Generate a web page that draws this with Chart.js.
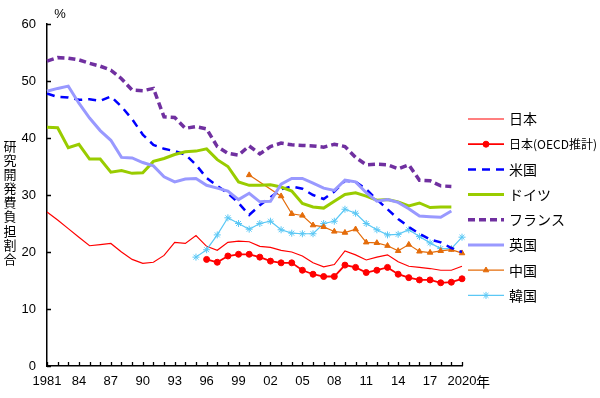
<!DOCTYPE html>
<html>
<head>
<meta charset="utf-8">
<script src="https://cdn.jsdelivr.net/npm/chart.js"></script>
<style>
  body { margin: 0; background: #fff; }
  #wrap { width: 600px; height: 398px; }
</style>
</head>
<body>
<div id="wrap"><canvas id="chart" width="600" height="398"></canvas></div>
<script>
// 年 (1981-2020)
var years = [];
for (var y = 1981; y <= 2020; y++) years.push(y);

var yTicks = [0, 10, 20, 30, 40, 50, 60];
var yTitle = '研究開発費負担割合';

var seriesNames = ['日本', '日本(OECD推計)', '米国', 'ドイツ', 'フランス', '英国', '中国', '韓国'];

var japan = [27.0, 25.6, 24.1, 22.6, 21.1, 21.3, 21.5, 20.0, 18.7, 18.0,
             18.2, 19.4, 21.7, 21.5, 22.9, 21.0, 20.3, 21.7, 21.9, 21.8,
             21.0, 20.8, 20.3, 20.0, 19.3, 18.1, 17.4, 17.8, 20.2, 19.5,
             18.6, 19.1, 19.5, 18.3, 17.5, 17.3, 17.1, 16.8, 16.8, 17.5];
var japanOecd = [null, null, null, null, null, null, null, null, null, null,
                 null, null, null, null, null, 18.7, 18.2, 19.3, 19.6, 19.6,
                 19.1, 18.4, 18.1, 18.1, 16.8, 16.1, 15.7, 15.7, 17.7, 17.3,
                 16.4, 16.8, 17.3, 16.1, 15.5, 15.1, 15.1, 14.6, 14.7, 15.3];
var usa = [47.8, 47.2, 47.1, 46.7, 46.8, 46.5, 47.3, 45.5, 43.3, 40.6,
           38.8, 38.1, 37.7, 37.1, 35.3, 33.0, 31.6, 30.3, 28.6, 26.5,
           28.2, 29.6, 31.0, 31.5, 31.1, 30.0, 29.3, 30.6, 32.5, 32.3,
           31.0, 29.2, 27.5, 25.8, 24.4, 23.2, 22.2, 21.7, 20.7, 20.0];
var germany = [41.9, 41.8, 38.3, 38.9, 36.3, 36.3, 34.0, 34.3, 33.8, 33.9,
               35.9, 36.4, 37.1, 37.6, 37.7, 38.1, 36.2, 35.0, 32.3, 31.7,
               31.7, 31.8, 31.4, 30.7, 28.5, 27.9, 27.7, 28.9, 30.1, 30.4,
               29.8, 29.1, 29.2, 28.8, 28.1, 28.6, 27.8, 27.9, 27.9, null];
var france = [53.5, 54.1, 54.0, 53.7, 53.1, 52.6, 51.9, 50.4, 48.4, 48.3,
              48.7, 43.7, 43.6, 41.7, 42.0, 41.6, 38.5, 37.3, 37.0, 38.6,
              37.2, 38.5, 39.1, 38.8, 38.7, 38.6, 38.4, 38.9, 38.5, 36.6,
              35.3, 35.4, 35.3, 34.6, 35.3, 32.6, 32.5, 31.6, 31.5, null];
var uk = [48.2, 48.7, 49.1, 46.1, 43.5, 41.3, 39.6, 36.6, 36.5, 35.7,
          35.1, 33.2, 32.3, 32.8, 32.9, 31.7, 31.2, 30.7, 29.2, 30.3,
          28.8, 28.9, 31.9, 32.9, 32.9, 32.1, 31.2, 30.8, 32.6, 32.3,
          30.4, 28.9, 29.2, 28.7, 27.6, 26.3, 26.2, 26.1, 27.2, null];
var china = [null, null, null, null, null, null, null, null, null, null,
             null, null, null, null, null, null, null, null, null, 33.5,
             null, null, 29.8, 26.7, 26.4, 24.7, 24.4, 23.6, 23.4, 24.0,
             21.7, 21.6, 21.1, 20.2, 21.3, 20.1, 19.9, 20.2, 20.4, 19.8];
var korea = [null, null, null, null, null, null, null, null, null, null,
             null, null, null, null, 19.1, 20.4, 23.0, 26.0, 25.0, 24.0,
             25.0, 25.4, 23.9, 23.3, 23.2, 23.2, 25.0, 25.4, 27.5, 26.8,
             25.0, 23.9, 23.0, 23.1, 23.9, 22.7, 21.6, 20.6, 20.6, 22.6];

var numFont = "'Liberation Sans', Arial, sans-serif";
var jpFont = "'Noto Sans CJK JP', sans-serif";

Chart.defaults.font.family = numFont;
Chart.defaults.color = '#000';

function ds(label, data, color, width, dash, point, radius) {
    return {
        label: label,
        data: data,
        borderColor: color,
        backgroundColor: color,
        borderWidth: width,
        borderDash: dash,
        pointStyle: point || 'circle',
        pointRadius: radius || 0,
        pointBorderWidth: 1,
        pointHoverRadius: radius || 0,
        tension: 0,
        spanGaps: true,
        fill: false
    };
}

var datasets = [
    ds(seriesNames[5], uk, '#9999FF', 3, []),
    ds(seriesNames[4], france, '#7030A0', 3.5, [7, 4]),
    ds(seriesNames[3], germany, '#99CC00', 3, []),
    ds(seriesNames[2], usa, '#0000FF', 2.5, [8, 6]),
    ds(seriesNames[6], china, '#E46C0A', 1.2, [], 'triangle', 3.2),
    ds(seriesNames[7], korea, '#5BC8F5', 1.2, [], 'star', 3.5),
    ds(seriesNames[0], japan, '#FF0000', 1.2, []),
    ds(seriesNames[1], japanOecd, '#FF0000', 1.8, [], 'circle', 3)
];
// legend order as in the picture
var legendOrder = [6, 7, 3, 2, 1, 0, 4, 5];

var extras = {
    id: 'extras',
    afterDraw: function (chart) {
        var ctx = chart.ctx;
        var xs = chart.scales.x, ys = chart.scales.y;
        var area = chart.chartArea;
        ctx.save();
        // inward tick marks
        ctx.strokeStyle = '#000';
        ctx.lineWidth = 1.3;
        ctx.beginPath();
        for (var i = 0; i < years.length; i++) {
            var px = Math.round(xs.getPixelForValue(i)) + 0.5;
            ctx.moveTo(px, area.bottom);
            ctx.lineTo(px, area.bottom - 4);
        }
        yTicks.forEach(function (v) {
            var py = Math.round(ys.getPixelForValue(v)) + 0.5;
            ctx.moveTo(area.left, py);
            ctx.lineTo(area.left + 4, py);
        });
        ctx.stroke();

        // % and 年
        ctx.fillStyle = '#000';
        ctx.font = '13px ' + numFont;
        ctx.textAlign = 'center';
        ctx.textBaseline = 'middle';
        ctx.fillText('%', 60, 14);
        ctx.font = '14px ' + jpFont;
        ctx.textAlign = 'left';
        ctx.fillText('年', xs.getPixelForValue(years.length - 1) + 14, 382);

        // vertical axis title
        ctx.font = '13px ' + jpFont;
        ctx.textAlign = 'center';
        for (var c = 0; c < yTitle.length; c++) {
            ctx.fillText(yTitle[c], 10, 146 + c * 14.1);
        }

        // legend
        legendOrder.forEach(function (di, k) {
            var d = chart.data.datasets[di];
            var ly = 119 + k * 25.2;
            ctx.strokeStyle = d.borderColor;
            ctx.lineWidth = d.borderWidth;
            ctx.setLineDash(d.borderDash || []);
            ctx.beginPath();
            ctx.moveTo(468, ly);
            ctx.lineTo(504, ly);
            ctx.stroke();
            ctx.setLineDash([]);
            if (d.pointRadius > 0) {
                ctx.fillStyle = d.backgroundColor;
                ctx.strokeStyle = d.borderColor;
                ctx.lineWidth = 1;
                Chart.helpers.drawPoint(ctx, {
                    pointStyle: d.pointStyle, radius: d.pointRadius,
                    rotation: 0, borderWidth: 1
                }, 486, ly);
            }
            ctx.fillStyle = '#000';
            ctx.textAlign = 'left';
            ctx.font = (d.label.length > 5 ? '12px ' : '14px ') + jpFont;
            ctx.fillText(d.label, 509, ly);
        });
        ctx.restore();
    }
};

var chart = new Chart(document.getElementById('chart').getContext('2d'), {
    type: 'line',
    data: { labels: years, datasets: datasets },
    options: {
        responsive: false,
        animation: false,
        events: [],
        layout: { padding: { left: 0, right: 138, top: 24, bottom: 0 } },
        plugins: {
            legend: { display: false },
            tooltip: { enabled: false },
            title: { display: false }
        },
        scales: {
            x: {
                type: 'category',
                offset: false,
                grid: { display: false, drawTicks: false },
                border: { display: true, color: '#000', width: 1.5 },
                ticks: {
                    autoSkip: false,
                    maxRotation: 0,
                    padding: 8,
                    font: { size: 13 },
                    callback: function (value, index) {
                        var yr = years[index];
                        if ((yr - 1981) % 3 !== 0) return '';
                        if (yr === 1981 || yr === 2020) return String(yr);
                        return String(yr).slice(2);
                    }
                },
                afterFit: function (s) { s.height = 32; }
            },
            y: {
                min: 0,
                max: 60,
                grid: { display: false, drawTicks: false },
                border: { display: true, color: '#000', width: 1.5 },
                ticks: {
                    stepSize: 10,
                    padding: 11,
                    font: { size: 13 }
                },
                afterFit: function (s) { s.width = 47; }
            }
        }
    },
    plugins: [extras]
});
</script>
</body>
</html>
